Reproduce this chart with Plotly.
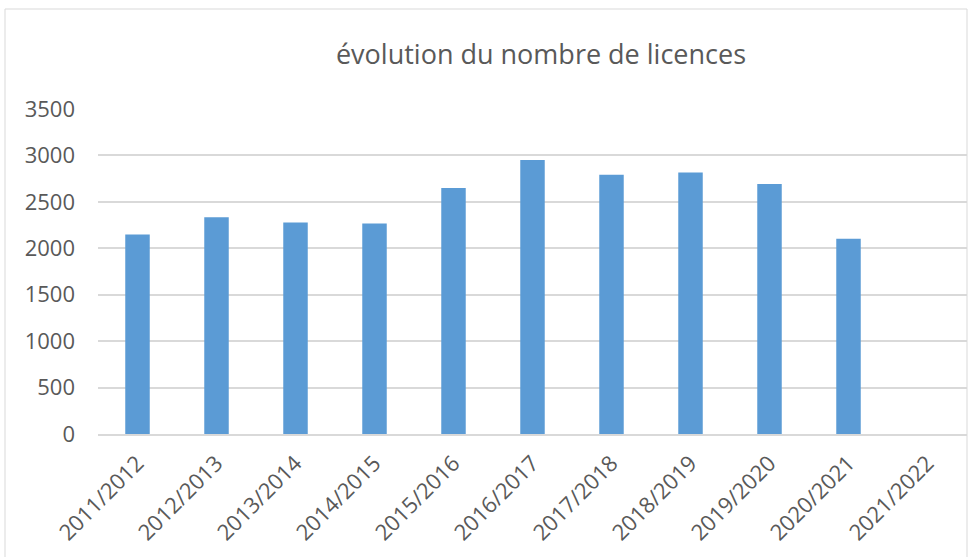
import plotly.graph_objects as go

categories = ["2011/2012", "2012/2013", "2013/2014", "2014/2015", "2015/2016",
              "2016/2017", "2017/2018", "2018/2019", "2019/2020", "2020/2021", "2021/2022"]
licences = [2148, 2335, 2277, 2266, 2649, 2952, 2791, 2816, 2691, 2102, None]
y_ticks = [0, 500, 1000, 1500, 2000, 2500, 3000, 3500]

W, H = 970, 557
L, R, T, B = 98, 3, 109, 123
pw = W - L - R
ph = H - T - B

fig = go.Figure(go.Bar(x=categories, y=licences, marker_color="#5b9bd5",
                       marker_line_width=0))

def px_to_paper_x(px):
    return (px - L) / pw

def px_to_paper_y(py):
    return (H - B - py) / ph

fig.add_shape(type="rect", xref="paper", yref="paper",
              x0=px_to_paper_x(5), x1=px_to_paper_x(967),
              y0=px_to_paper_y(565), y1=px_to_paper_y(9),
              line=dict(color="#d9d9d9", width=1), fillcolor="rgba(0,0,0,0)", layer="below")

fig.update_layout(
    width=W, height=H,
    margin=dict(l=L, r=R, t=T, b=B),
    paper_bgcolor="white", plot_bgcolor="white",
    bargap=0.69,
    showlegend=False,
    title=dict(text="évolution du nombre de licences", xref="container", x=541 / W,
               xanchor="center", y=1 - 55 / H, yanchor="middle",
               font=dict(family="Open Sans", size=27, color="#595959")),
    font=dict(family="Open Sans", color="#595959"),
    xaxis=dict(type="category", tickangle=-45, tickfont=dict(size=22, color="#595959"),
               showgrid=False, showline=True, linecolor="#d9d9d9", linewidth=1.5,
               ticks="", zeroline=False, automargin=False, ticklabelstandoff=6),
    yaxis=dict(range=[0, 3500], tickvals=y_ticks, tickfont=dict(size=22, color="#595959"),
               showgrid=True, gridcolor="#d9d9d9", gridwidth=1.5, zeroline=False,
               showline=False, ticks="", ticklabelstandoff=22, automargin=False),
)

fig.write_html("out.html", config={"displayModeBar": False},
               post_script="document.body.style.margin='0';document.body.style.overflow='hidden';")
